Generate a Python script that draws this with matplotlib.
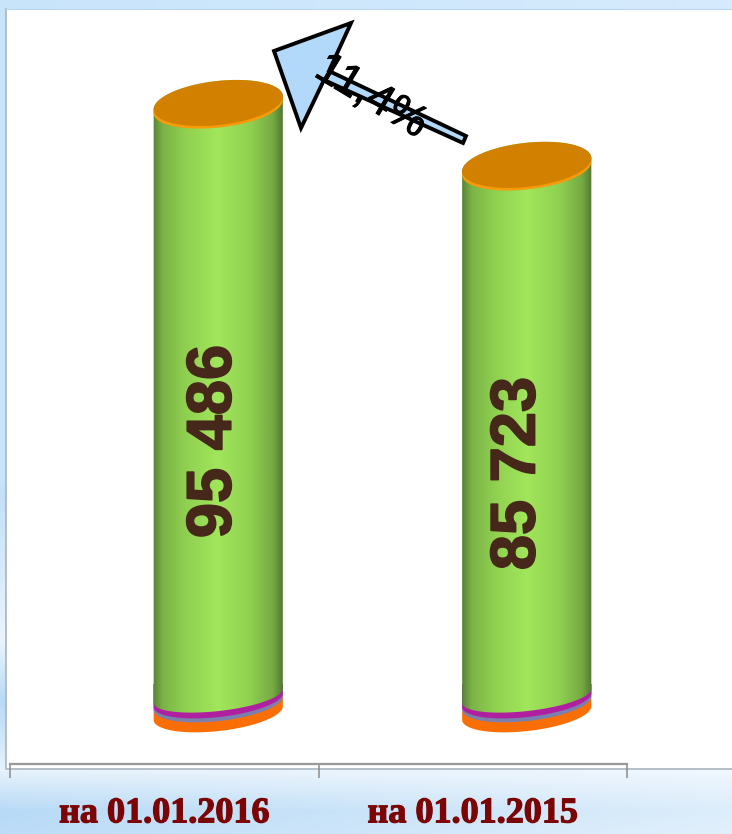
import numpy as np
import matplotlib
matplotlib.use("Agg")
import matplotlib.pyplot as plt
import matplotlib.patheffects as pe
from matplotlib.patches import Polygon, Rectangle
from matplotlib.colors import LinearSegmentedColormap, to_rgb

# ---- data ----
categories = ["на 01.01.2016", "на 01.01.2015"]
values = [95486, 85723]
value_labels = ["95 486", "85 723"]
change_label = "11,4%"

W, H = 732, 834
fig = plt.figure(figsize=(W / 100, H / 100), dpi=100)

# pixel canvas for the slide background and 3D decoration
bg = fig.add_axes([0, 0, 1, 1], zorder=0)
bg.set_xlim(0, W)
bg.set_ylim(H, 0)
bg.axis("off")

# slide background: vertical gradient, fading to the right
stops_y = [0, 480, 495, 640, 700, 770, 810, 834]
left_c = ["#c8e4fb", "#c8e4fb", "#c4e0f8", "#eaf4fd", "#b8daf6", "#e6f2fc", "#b8daf6", "#bcdcf7"]
right_c = ["#d6ebfd", "#d6ebfd", "#d6ebfd", "#e8f3fd", "#e0effc", "#f0f7fe", "#dcedfb", "#e2f0fc"]
ys = np.arange(H)
L = np.array([np.interp(ys, stops_y, [to_rgb(c)[i] for c in left_c]) for i in range(3)]).T
R = np.array([np.interp(ys, stops_y, [to_rgb(c)[i] for c in right_c]) for i in range(3)]).T
t = np.linspace(0, 1, 200)[None, :, None]
grad = L[:, None, :] * (1 - t) + R[:, None, :] * t
bg.imshow(grad, extent=(0, W, H, 0), aspect="auto", zorder=0)

# white plot panel
bg.add_patch(Rectangle((6, 9), W - 6, 760, fc="white", ec="none", zorder=1))
bg.plot([6, 6, W], [9, 769, 769], color="#a9b4bf", lw=1.2, zorder=2)
bg.plot([6, W], [9, 9], color="#b9d7f2", lw=0.8, zorder=2)
bg.set_xlim(0, W)
bg.set_ylim(H, 0)

# value axes: x runs across the three tick marks, baseline of bars above the axis line
px_per_unit = 605 / values[0]
axis_y, base_y = 764, 708
top_y = 20
ax = fig.add_axes([10 / W, (H - axis_y) / H, 617 / W, (axis_y - top_y) / H], zorder=3)
ax.patch.set_alpha(0)
ax.set_xlim(0, 2)
ax.set_ylim(-(axis_y - base_y) / px_per_unit, (base_y - top_y) / px_per_unit)
for s in ["top", "left", "right"]:
    ax.spines[s].set_visible(False)
ax.spines["bottom"].set_color("#9a9a9a")
ax.spines["bottom"].set_linewidth(1.6)
ax.spines["bottom"].set_linestyle((0, (0.7, 0.7)))
ax.set_yticks([])
ax.set_xticks([0, 1, 2])
ax.set_xticklabels([])
ax.tick_params(axis="x", length=10, width=1.1, color="#8c8c8c", direction="out")
ax.set_xticks([0.5, 1.5], labels=categories, minor=True)
ax.tick_params(axis="x", which="minor", length=0, pad=24, labelsize=26,
               labelcolor="#7b0404")
for lab in ax.get_xticklabels(minor=True):
    lab.set_fontfamily("Liberation Serif")
    lab.set_fontweight("bold")
    lab.set_path_effects([pe.withStroke(linewidth=0.9, foreground="#7b0404")])

# 3D cylinders
bar_depth_offset = 0.175
half_w = 65
tilt = np.radians(6.5)
body_cmap = LinearSegmentedColormap.from_list(
    "body", [(0, "#5a8738"), (0.07, "#7cb347"), (0.25, "#90d050"), (0.5, "#a1e65b"),
             (0.75, "#90d050"), (0.93, "#76aa43"), (1, "#547c34")])


def ellipse(cx, cy, b, a0=0, a1=2 * np.pi, n=160):
    th = np.linspace(a0, a1, n)
    x, y = half_w * np.cos(th), b * np.sin(th)
    return np.c_[cx + x * np.cos(tilt) + y * np.sin(tilt),
                 cy - x * np.sin(tilt) + y * np.cos(tilt)]


def lower_layer(cx, cy, b, up):
    arc = ellipse(cx, cy, b, 0, np.pi)
    return np.r_[arc, [[arc[-1, 0], up], [arc[0, 0], up]]]


label_x = [0.662, 0.647]
label_frac = [0.441, 0.432]
for i, v in enumerate(values):
    (cx, ty) = ax.transData.transform((i + 0.5 + bar_depth_offset, v))
    (_, by) = ax.transData.transform((0, 0))
    ty, by = H - ty, H - by
    for dy, b, col in [(5, 18, "#f96f05"), (-5, 18, "#7b7fae"), (-8, 17, "#b01fa0")]:
        bg.add_patch(Polygon(lower_layer(cx, by + dy, b, by - 24), fc=col, ec="none", zorder=3))
    body = Polygon(np.r_[ellipse(cx, by - 12, 15, 0, np.pi), ellipse(cx, ty, 22, np.pi, 2 * np.pi)],
                   fc="none", ec="none", zorder=4, transform=bg.transData)
    bg.add_patch(body)
    im = bg.imshow(np.linspace(0, 1, 130)[None, :], cmap=body_cmap, aspect="auto",
                   extent=(cx - 65, cx + 65, by + 30, ty - 25), zorder=4)
    im.set_clip_path(body)
    bg.add_patch(Polygon(ellipse(cx, ty + 3.5, 21), fc="#f99b08", ec="none", zorder=5))
    bg.add_patch(Polygon(ellipse(cx, ty, 22), fc="#d28000", ec="none", zorder=6))
    ax.text(i + label_x[i], v * label_frac[i], value_labels[i], rotation=90, ha="center", va="center",
            family="Liberation Sans", fontweight="bold", fontsize=45.5, color="#46281a", zorder=8,
            path_effects=[pe.withStroke(linewidth=1.2, foreground="#46281a")])
bg.set_xlim(0, W)
bg.set_ylim(H, 0)

# change arrow drawn over the plot
tip = (274, 51)
b1, b2 = (351, 23), (301, 128)
s1a, s1b = (329, 71), (466, 136)
s2b, s2a = (463, 143), (324, 80)
arrow = Polygon([tip, b1, s1a, s1b, s2b, s2a, b2], closed=True, fc="#b3d9fa", ec="black",
                lw=2.8, joinstyle="miter", zorder=7)
bg.add_patch(arrow)
bg.text(371, 97, change_label, rotation=-31, rotation_mode="anchor", ha="center", va="center",
        family="Liberation Sans", fontsize=32, color="black", zorder=9,
        path_effects=[pe.withStroke(linewidth=0.6, foreground="black")])

fig.savefig("out.png", dpi=100)
